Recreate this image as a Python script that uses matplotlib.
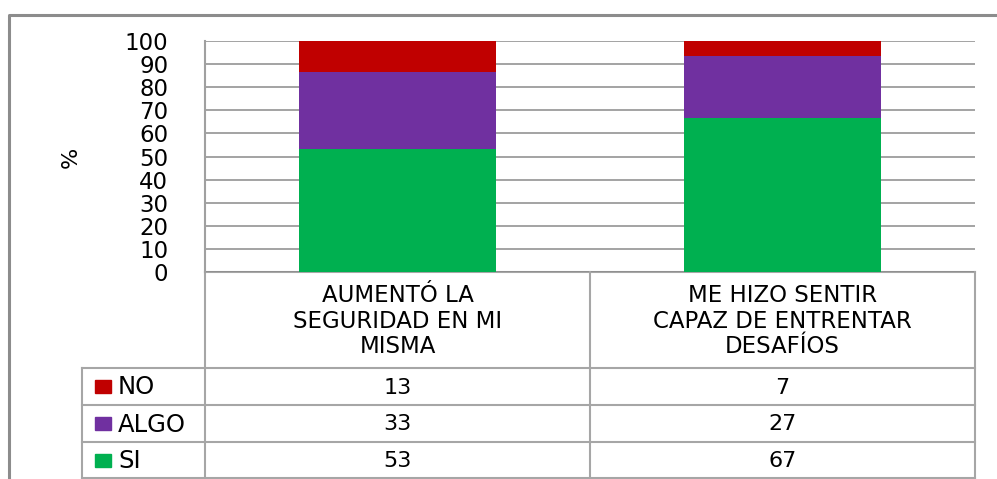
import matplotlib
matplotlib.use("Agg")
import matplotlib.pyplot as plt
from matplotlib.transforms import blended_transform_factory
from matplotlib.lines import Line2D
from matplotlib.patches import Rectangle

plt.rcParams['font.family'] = ['DejaVu Sans']

categories = ["AUMENTÓ LA\nSEGURIDAD EN MI\nMISMA",
              "ME HIZO SENTIR\nCAPAZ DE ENTRENTAR\nDESAFÍOS"]
series_names = ["SI", "ALGO", "NO"]
si_values = [53.3, 66.7]
algo_values = [33.3, 26.7]
no_values = [13.3, 6.7]
colors = {"SI": "#00B050", "ALGO": "#7030A0", "NO": "#C00000"}
yticks = [0, 10, 20, 30, 40, 50, 60, 70, 80, 90, 100]

W, H = 997, 479
fig = plt.figure(figsize=(W / 100, H / 100), dpi=100)
fig.patch.set_facecolor("white")

# overlay axes in pixel coordinates
ov = fig.add_axes([0, 0, 1, 1])
ov.set_xlim(0, W)
ov.set_ylim(H, 0)
ov.axis("off")

# plot area
L, R, T, B = 205, 975, 41, 272
ax = fig.add_axes([L / W, 1 - B / H, (R - L) / W, (B - T) / H])
ax.set_facecolor("none")
x = list(range(len(categories)))
bw = 0.51
bottom = [0.0] * len(x)
for name, vals in (("SI", si_values), ("ALGO", algo_values), ("NO", no_values)):
    ax.bar(x, vals, width=bw, bottom=bottom, color=colors[name], zorder=3, linewidth=0)
    bottom = [b + v for b, v in zip(bottom, vals)]

ax.set_xlim(-0.5, len(categories) - 0.5)
ax.set_ylim(0, 100)
ax.set_yticks(yticks)
ax.set_yticklabels([str(t) for t in yticks], fontsize=16.5, color="#000000")
ax.tick_params(axis="y", length=0, pad=26.5)
ax.set_xticks([])
ax.yaxis.grid(True, color="#8a8a8a", linewidth=1.1, zorder=0)
for s in ("top", "right", "bottom"):
    ax.spines[s].set_visible(False)
ax.spines["left"].set_color("#a0a0a0")
ax.spines["left"].set_linewidth(1.5)
ov.text(71, 157, "%", rotation=90, ha="center", va="center", fontsize=16, color="#000000")

# outer border
ov.plot([9, 9, W + 5], [H + 5, 15, 15], color="#8c8c8c", linewidth=2.2, solid_capstyle="butt")

# data table
tc = "#a6a6a6"
tw = 1.5
hdr_bottom = 368
row_edges = [368, 405, 442, 478]
tr = blended_transform_factory(ax.transData, ov.transData)
ov.add_line(Line2D([L, R], [B, B], color=tc, lw=tw))
for yy in row_edges:
    ov.add_line(Line2D([82, R], [yy, yy], color=tc, lw=tw))
ov.add_line(Line2D([L, L], [B, row_edges[-1]], color=tc, lw=tw))
ov.add_line(Line2D([82, 82], [row_edges[0], row_edges[-1]], color=tc, lw=tw))
for i in range(len(categories)):
    xe = i + 0.5
    ln = Line2D([xe, xe], [B, row_edges[-1]], color=tc, lw=tw, transform=tr)
    ln.set_clip_on(False)
    fig.add_artist(ln)

# header text
for i, c in enumerate(categories):
    fig.text(i, (B + hdr_bottom) / 2 + 1, c, transform=tr, ha="center", va="center",
             fontsize=16.5, linespacing=1.14, color="#000000")

# rows: NO, ALGO, SI
rows = [("NO", no_values), ("ALGO", algo_values), ("SI", si_values)]
for r, (name, vals) in enumerate(rows):
    yc = (row_edges[r] + row_edges[r + 1]) / 2
    ov.add_patch(Rectangle((95, yc - 6.5), 16, 13, color=colors[name]))
    ov.text(118, yc + 1, name, ha="left", va="center", fontsize=17.5, color="#000000")
    for i, v in enumerate(vals):
        fig.text(i, yc + 1, f"{v:.0f}", transform=tr, ha="center", va="center",
                 fontsize=16, color="#000000")

fig.savefig("out.png", dpi=100)
